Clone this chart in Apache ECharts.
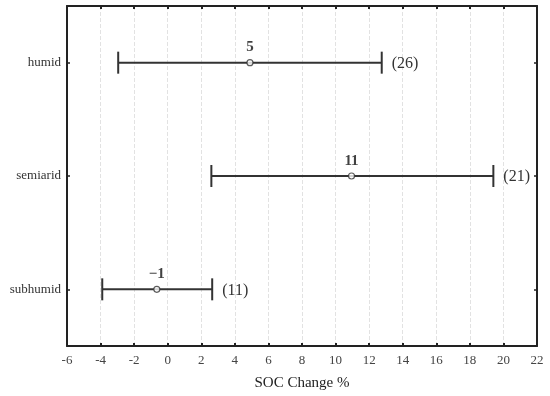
<!DOCTYPE html>
<html>
<head>
<meta charset="utf-8">
<script src="https://cdn.jsdelivr.net/npm/echarts@6/dist/echarts.min.js"></script>
<style>html,body{margin:0;padding:0;background:#fff;}#c{width:550px;height:396px;}</style>
</head>
<body>
<div id="c"></div>
<script>
var categories = ['humid', 'semiarid', 'subhumid'];
var lowValues = [-2.95, 2.6, -3.9];
var meanValues = [4.9, 10.95, -0.65];
var highValues = [12.75, 19.4, 2.65];
var meanLabels = ['5', '11', '\u22121'];
var countLabels = ['(26)', '(21)', '(11)'];
var xTicks = { min: -6, max: 22, interval: 2 };

var FONT = '"Liberation Serif", "DejaVu Serif", serif';
var chart = echarts.init(document.getElementById('c'));

var barData = categories.map(function (c, i) { return [i, lowValues[i], highValues[i], countLabels[i]]; });
var meanData = categories.map(function (c, i) { return [meanValues[i], c, meanLabels[i]]; });

chart.setOption({
  animation: false,
  backgroundColor: '#fff',
  grid: { left: 67, right: 13, top: 6, bottom: 50, containLabel: false },
  xAxis: [{
    type: 'value', min: xTicks.min, max: xTicks.max, interval: xTicks.interval,
    position: 'bottom',
    name: 'SOC Change %', nameLocation: 'middle', nameGap: 30,
    nameTextStyle: { fontFamily: FONT, fontSize: 15, color: '#222' },
    axisLine: { show: true, onZero: false, lineStyle: { color: '#222', width: 2 } },
    axisTick: { show: true, inside: true, length: 3, lineStyle: { color: '#222', width: 2 } },
    axisLabel: { fontFamily: FONT, fontSize: 13, color: '#444', margin: 8 },
    splitLine: { show: true, lineStyle: { color: '#e2e2e2', type: 'dashed', width: 1 } }
  }, {
    type: 'value', min: xTicks.min, max: xTicks.max, interval: xTicks.interval,
    position: 'top',
    axisLine: { show: true, onZero: false, lineStyle: { color: '#222', width: 2 } },
    axisTick: { show: true, inside: true, length: 3, lineStyle: { color: '#222', width: 2 } },
    axisLabel: { show: false }, splitLine: { show: false }
  }],
  yAxis: [{
    type: 'category', data: categories, inverse: true, position: 'left',
    axisLine: { show: true, onZero: false, lineStyle: { color: '#222', width: 2 } },
    axisTick: { show: true, inside: true, length: 3, alignWithLabel: true, interval: 0, lineStyle: { color: '#222', width: 1.5 } },
    axisLabel: { fontFamily: FONT, fontSize: 13, color: '#333', margin: 6 },
    splitLine: { show: false }
  }, {
    type: 'category', data: categories, inverse: true, position: 'right',
    axisLine: { show: true, onZero: false, lineStyle: { color: '#222', width: 2 } },
    axisTick: { show: true, inside: true, length: 3, alignWithLabel: true, interval: 0, lineStyle: { color: '#222', width: 1.5 } },
    axisLabel: { show: false }, splitLine: { show: false }
  }],
  series: [{
    type: 'custom',
    xAxisIndex: 0, yAxisIndex: 0,
    data: barData,
    encode: { x: [1, 2], y: 0 },
    renderItem: function (params, api) {
      var cat = api.value(0);
      var lo = api.coord([api.value(1), cat]);
      var hi = api.coord([api.value(2), cat]);
      var cap = 11;
      var st = { stroke: '#333', lineWidth: 2 };
      return {
        type: 'group',
        children: [
          { type: 'line', shape: { x1: lo[0], y1: lo[1], x2: hi[0], y2: hi[1] }, style: st },
          { type: 'line', shape: { x1: lo[0], y1: lo[1] - cap, x2: lo[0], y2: lo[1] + cap }, style: st },
          { type: 'line', shape: { x1: hi[0], y1: hi[1] - cap, x2: hi[0], y2: hi[1] + cap }, style: st },
          { type: 'text', x: hi[0] + 10, y: hi[1] + 1,
            style: { text: countLabels[params.dataIndex], font: '16px ' + FONT, fill: '#333', textVerticalAlign: 'middle', textAlign: 'left' } }
        ]
      };
    },
    z: 2
  }, {
    type: 'scatter',
    xAxisIndex: 0, yAxisIndex: 0,
    data: meanData,
    symbol: 'circle', symbolSize: 6,
    itemStyle: { color: '#fff', borderColor: '#333', borderWidth: 1.2 },
    label: {
      show: true, position: 'top', distance: 4,
      formatter: function (p) { return p.data[2]; },
      fontFamily: FONT, fontSize: 15, fontWeight: 'bold', color: '#111'
    },
    z: 3
  }]
});
</script>
</body>
</html>
